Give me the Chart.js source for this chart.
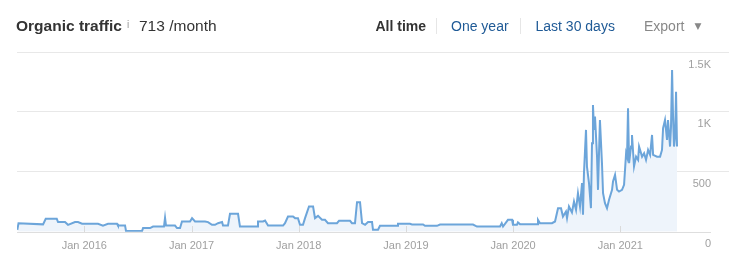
<!DOCTYPE html>
<html><head><meta charset="utf-8">
<script src="https://cdn.jsdelivr.net/npm/chart.js@4/dist/chart.umd.min.js"></script>
<style>
html,body{margin:0;padding:0;background:#fff;}
body{width:729px;height:269px;position:relative;overflow:hidden;font-family:"Liberation Sans",Arial,sans-serif;}
#c{position:absolute;left:0;top:0;}
.h{position:absolute;line-height:1;white-space:nowrap;}
.sep{position:absolute;width:1px;height:16px;top:18px;background:#e6e6e6;}
</style></head>
<body>
<canvas id="c" width="729" height="269"></canvas>
<span class="h" style="left:16px;top:17.6px;font-size:15.5px;font-weight:bold;color:#333">Organic traffic</span>
<span class="h" style="left:127px;top:19.5px;font-size:10px;color:#999">i</span>
<span class="h" style="left:139px;top:17.6px;font-size:15.5px;color:#333">713 /month</span>
<span class="h" style="left:375.5px;top:18.85px;font-size:14px;font-weight:bold;color:#333">All time</span>
<div class="sep" style="left:436px"></div>
<span class="h" style="left:451px;top:18.85px;font-size:14px;color:#1f5a96">One year</span>
<div class="sep" style="left:520px"></div>
<span class="h" style="left:535.5px;top:18.85px;font-size:14px;color:#1f5a96">Last 30 days</span>
<span class="h" style="left:644px;top:18.85px;font-size:14px;color:#888">Export</span>
<span class="h" style="left:694.5px;top:22px;font-size:9px;color:#888;font-family:'DejaVu Sans'">▼</span>
<script>
// Dates as fractional years, values = organic traffic per month
const dates = [
2015.375,2015.386,2015.615,2015.640,2015.743,2015.755,2015.820,2015.848,2015.913,2015.941,
2015.979,2016.128,2016.174,2016.221,2016.305,2016.314,2016.380,2016.389,2016.538,2016.548,
2016.613,2016.641,2016.743,2016.753,2016.762,2016.846,2016.865,2016.893,2016.911,2016.986,
2017.005,2017.033,2017.126,2017.154,2017.191,2017.219,2017.247,2017.285,2017.294,2017.340,
2017.359,2017.434,2017.452,
2017.611,2017.620,2017.667,2017.686,2017.714,2017.854,2017.872,2017.900,2017.947,2017.966,
2017.993,2018.012,2018.040,2018.059,2018.096,2018.134,2018.152,2018.180,2018.217,2018.245,
2018.273,2018.357,2018.376,2018.479,2018.497,2018.525,2018.544,2018.572,2018.591,2018.619,
2018.647,2018.684,2018.693,2018.740,2018.758,2018.917,2018.926,2019.038,2019.057,2019.160,
2019.178,2019.290,2019.318,2019.626,2019.663,2019.785,
2019.878,2019.894,2019.906,2019.952,2019.990,2019.999,2020.036,2020.045,2020.064,2020.223,
2020.232,2020.251,2020.363,2020.391,2020.419,2020.447,2020.465,2020.493,2020.503,2020.521,
2020.549,2020.568,2020.587,2020.605,2020.624,2020.643,2020.652,2020.661,2020.680,2020.689,
2020.708,2020.726,2020.736,2020.745,2020.755,2020.764,2020.783,2020.792,2020.810,2020.829,
2020.839,2020.857,2020.876,2020.895,2020.923,2020.932,2020.951,2020.970,2020.988,2021.016,
2021.035,2021.054,2021.063,2021.072,2021.082,2021.100,2021.109,2021.128,2021.147,2021.166,
2021.175,2021.203,2021.222,2021.240,2021.259,2021.278,2021.296,2021.306,2021.343,2021.371,
2021.389,2021.399,2021.417,2021.436,2021.445,2021.464,2021.473,2021.483,2021.492,2021.501,
2021.511,2021.520,2021.529
];
const traffic = [
17,71,62,108,108,81,81,58,81,81,
67,67,52,67,67,52,52,6,6,31,
31,44,44,117,52,52,31,31,86,86,
114,86,86,81,58,58,72,81,52,52,
150,150,44,
44,86,86,94,52,52,72,127,127,114,
114,58,58,114,211,211,114,133,100,100,
72,72,92,92,72,72,247,247,72,58,
81,81,17,17,50,50,67,67,61,61,
50,50,61,61,44,44,
44,72,44,100,100,58,58,78,64,64,
100,72,72,86,197,197,127,169,114,211,
161,252,183,322,211,406,142,489,850,544,
406,197,739,1058,850,961,627,350,933,572,
322,239,197,267,350,419,475,350,336,350,
392,656,627,1031,572,711,808,544,627,600,
711,627,656,600,683,642,808,642,627,627,
683,864,933,767,933,711,877,1350,961,711,
794,1169,711
];
const xTickValues = [2016,2017,2018,2019,2020,2021];
const xTickLabels = ['Jan 2016','Jan 2017','Jan 2018','Jan 2019','Jan 2020','Jan 2021'];
const yTickValues = [0,500,1000,1500];
const yTickLabels = ['0','500','1K','1.5K'];
const X_MIN = 2015.372, X_MAX = 2022.014;

Chart.defaults.font.family = '"Liberation Sans", Arial, sans-serif';

const decor = {
  id: 'decor',
  beforeDatasetsDraw(chart) {
    const {ctx, chartArea: a, scales: {y}} = chart;
    const y0 = Math.round(y.getPixelForValue(0)) + 0.5;
    ctx.save();
    ctx.strokeStyle = '#dedede'; ctx.lineWidth = 1;
    ctx.beginPath(); ctx.moveTo(a.left, y0); ctx.lineTo(a.right - 18, y0); ctx.stroke();
    ctx.restore();
  },
  afterDatasetsDraw(chart) {
    const {ctx, chartArea: a, scales: {x, y}} = chart;
    const y0 = Math.round(y.getPixelForValue(0));
    ctx.save();
    ctx.strokeStyle = '#dadada'; ctx.lineWidth = 1;
    x.ticks.forEach(t => {
      const px = Math.round(x.getPixelForValue(t.value)) + 0.5;
      ctx.beginPath(); ctx.moveTo(px, y0 - 6); ctx.lineTo(px, y0); ctx.stroke();
    });
    ctx.fillStyle = '#a0a0a0';
    ctx.font = '11px "Liberation Sans", Arial, sans-serif';
    ctx.textAlign = 'right'; ctx.textBaseline = 'middle';
    y.ticks.forEach((t, i) => {
      ctx.fillText(yTickLabels[i], a.right - 18, y.getPixelForValue(t.value) + 12.5);
    });
    ctx.restore();
  }
};

new Chart(document.getElementById('c'), {
  type: 'line',
  data: {
    datasets: [{
      data: dates.map((d, i) => ({x: d, y: traffic[i]})),
      borderColor: '#6ca5da',
      borderWidth: 2,
      backgroundColor: '#eef4fb',
      fill: 'origin',
      pointRadius: 0,
      tension: 0
    }]
  },
  options: {
    responsive: false,
    animation: false,
    layout: {padding: {left: 17, right: 0, top: 52, bottom: 8}},
    plugins: {legend: {display: false}, tooltip: {enabled: false}},
    scales: {
      x: {
        type: 'linear', min: X_MIN, max: X_MAX,
        afterBuildTicks: s => { s.ticks = xTickValues.map(v => ({value: v})); },
        ticks: {
          callback: (v, i) => xTickLabels[i],
          color: '#a0a0a0', font: {size: 11}, padding: 8,
          maxRotation: 0, autoSkip: false
        },
        grid: {display: false, drawTicks: false},
        border: {display: false}
      },
      y: {
        position: 'right', min: 0, max: 1500,
        afterBuildTicks: s => { s.ticks = yTickValues.map(v => ({value: v})); },
        ticks: {display: false},
        grid: {
          color: c => (c.tick && c.tick.value === 0) ? 'rgba(0,0,0,0)' : '#e8e8e8',
          drawTicks: false, lineWidth: 1
        },
        border: {display: false}
      }
    }
  },
  plugins: [decor]
});
</script>
</body></html>
